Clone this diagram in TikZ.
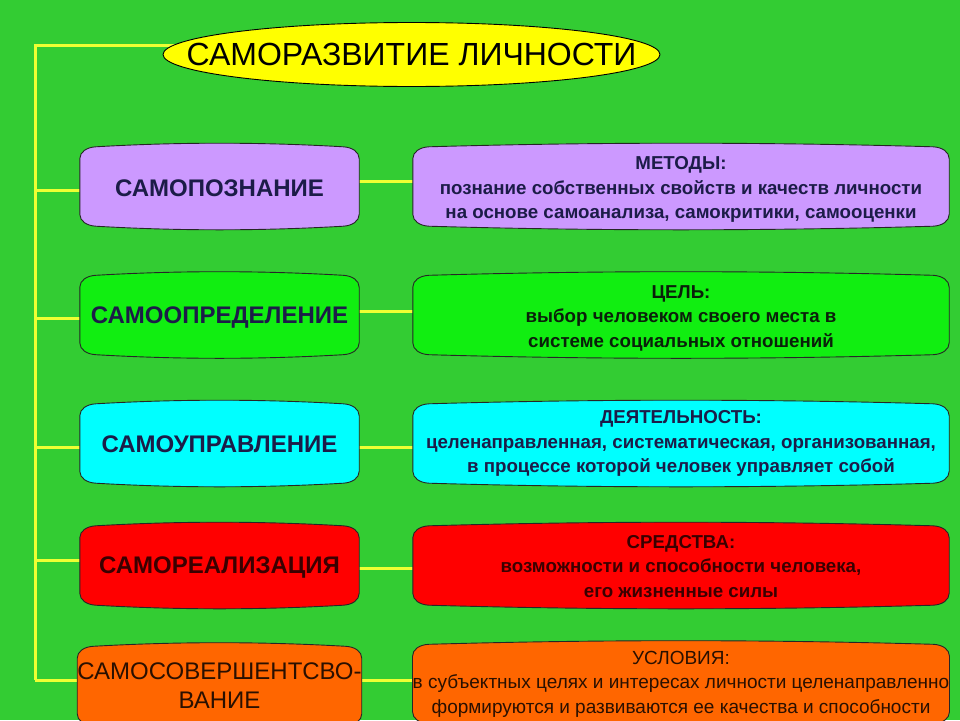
\documentclass[tikz,border=0pt]{standalone}
\usepackage{fontspec}
\setmainfont{Liberation Sans}
\usetikzlibrary{shapes.geometric,calc}
\pgfdeclarelayer{bg}
\pgfdeclarelayer{mid}
\pgfsetlayers{bg,mid,main}
\definecolor{bgc}{HTML}{33CC33}
\definecolor{conncol}{HTML}{EEFF33}
\definecolor{lav}{HTML}{CC99FF}
\definecolor{grn}{HTML}{11EE11}
\definecolor{cyn}{HTML}{00FFFF}
\definecolor{rd}{HTML}{FF0000}
\definecolor{org}{HTML}{FF6600}
\definecolor{ttl}{HTML}{FFFF00}
\definecolor{navy}{HTML}{1C1C48}
\definecolor{dred}{HTML}{3A0000}
\definecolor{dgrn}{HTML}{0A200A}
\definecolor{dorg}{HTML}{2A1000}
% #1 vertical offset (canvas), #2 node, #3 fill
\newcommand\plaque[3][0pt]{%
  \begin{pgfonlayer}{mid}
  \path let \p1=(#2.north west), \p2=(#2.south east) in
   [yshift=#1, fill=#3, draw=black!85, line width=0.9pt]
   (\x1,{\y1-16pt}) .. controls (\x1,{\y1-9pt}) and ({\x1+7pt},{\y1-4.5pt}) .. ({\x1+16pt},{\y1-4pt})
   .. controls ({\x1+16pt+(\x2-\x1-32pt)/3},{\y1+0.8pt}) and ({\x2-16pt-(\x2-\x1-32pt)/3},{\y1+0.8pt}) .. ({\x2-16pt},{\y1-4pt})
   .. controls ({\x2-7pt},{\y1-4.5pt}) and (\x2,{\y1-9pt}) .. (\x2,{\y1-16pt})
   -- (\x2,{\y2+16pt})
   .. controls (\x2,{\y2+9pt}) and ({\x2-7pt},{\y2+4.5pt}) .. ({\x2-16pt},{\y2+4pt})
   .. controls ({\x2-16pt-(\x2-\x1-32pt)/3},{\y2-0.8pt}) and ({\x1+16pt+(\x2-\x1-32pt)/3},{\y2-0.8pt}) .. ({\x1+16pt},{\y2+4pt})
   .. controls ({\x1+7pt},{\y2+4.5pt}) and (\x1,{\y2+9pt}) .. (\x1,{\y2+16pt}) -- cycle;
  \end{pgfonlayer}}
\begin{document}
\begin{tikzpicture}[x=1pt,y=-1pt,
  conn/.style={draw=conncol, line width=3pt},
  lbox/.style={minimum width=279pt, minimum height=87pt, inner sep=0pt, align=center,
     font=\bfseries\fontsize{24}{28}\selectfont},
  rbox/.style={minimum width=536pt, minimum height=87pt, inner sep=0pt, align=center,
     font=\bfseries\fontsize{18.7}{24.5}\selectfont},
  ttlnode/.style={rectangle, minimum width=497pt, minimum height=64pt, inner sep=0pt,
     font=\fontsize{32}{36}\selectfont}]
\begin{pgfonlayer}{bg}
\fill[bgc] (0,0) rectangle (960,720);
\end{pgfonlayer}
\useasboundingbox (0,0) rectangle (960,720);

\node[ttlnode] (title) at (411.5,54.5) {САМОРАЗВИТИЕ ЛИЧНОСТИ};
\begin{pgfonlayer}{mid}
\draw[black, line width=0.9pt, fill=ttl] (title.center) ellipse [x radius=248.5pt, y radius=32pt];
\end{pgfonlayer}

\node[lbox, text=navy] (l1) at (219.5,188.5) {САМОПОЗНАНИЕ};
\node[lbox, text=navy] (l2) at (219.5,318) {САМООПРЕДЕЛЕНИЕ};
\node[lbox, text=navy] (l3) at (219.5,444.5) {САМОУПРАВЛЕНИЕ};
\node[lbox, text=dred] (l4) at (219.5,567.5) {САМОРЕАЛИЗАЦИЯ};
\node[lbox, text=dorg, font=\fontsize{24}{29}\selectfont] (l5) at (219.5,686) {САМОСОВЕРШЕНТСВО-\\ВАНИЕ};

\node[rbox, text=navy] (r1) at (681,189.5) {МЕТОДЫ:\\познание собственных свойств и качеств личности\\на основе самоанализа, самокритики, самооценки};
\node[rbox, text=dgrn] (r2) at (681,318) {ЦЕЛЬ:\\выбор человеком своего места в\\ системе социальных отношений};
\node[rbox, text=navy] (r3) at (681,443.5) {ДЕЯТЕЛЬНОСТЬ:\\целенаправленная, систематическая, организованная,\\в процессе которой человек управляет собой};
\node[rbox, text=dred] (r4) at (681,566.5) {СРЕДСТВА:\\возможности и способности человека,\\его жизненные силы};
\node[rbox, text=dorg, font=\fontsize{19}{24.5}\selectfont] (r5) at (681,684) {УСЛОВИЯ:\\в субъектных целях и интересах личности целенаправленно\\формируются и развиваются ее качества и способности};

\plaque[2pt]{l1}{lav}\plaque[3pt]{r1}{lav}
\plaque[3pt]{l2}{grn}\plaque[3pt]{r2}{grn}
\plaque[1pt]{l3}{cyn}\plaque{r3}{cyn}
\plaque[2pt]{l4}{rd}\plaque[1pt]{r4}{rd}
\plaque{l5}{org}\plaque{r5}{org}

\begin{pgfonlayer}{bg}
\coordinate (s0) at (35,45);
\coordinate (s5) at (35,680);
\coordinate (a1) at (35,190);
\coordinate (a2) at (35,318);
\coordinate (a3) at (35,447);
\coordinate (a4) at (35,560);
\coordinate (b1) at (386,181);
\coordinate (b2) at (386,311);
\coordinate (b3) at (386,447);
\coordinate (b4) at (386,568);
\coordinate (b5) at (386,680);
\draw[conn] (title.center |- s0) -- (s0) -- (s5);
\draw[conn] (a1) -- (a1 -| l1.center);
\draw[conn] (a2) -- (a2 -| l2.center);
\draw[conn] (a3) -- (a3 -| l3.center);
\draw[conn] (a4) -- (a4 -| l4.center);
\draw[conn] (s5) -- (s5 -| l5.center);
\draw[conn] (b1 -| l1.center) -- (b1 -| r1.center);
\draw[conn] (b2 -| l2.center) -- (b2 -| r2.center);
\draw[conn] (b3 -| l3.center) -- (b3 -| r3.center);
\draw[conn] (b4 -| l4.center) -- (b4 -| r4.center);
\draw[conn] (b5 -| l5.center) -- (b5 -| r5.center);
\end{pgfonlayer}
\end{tikzpicture}
\end{document}
